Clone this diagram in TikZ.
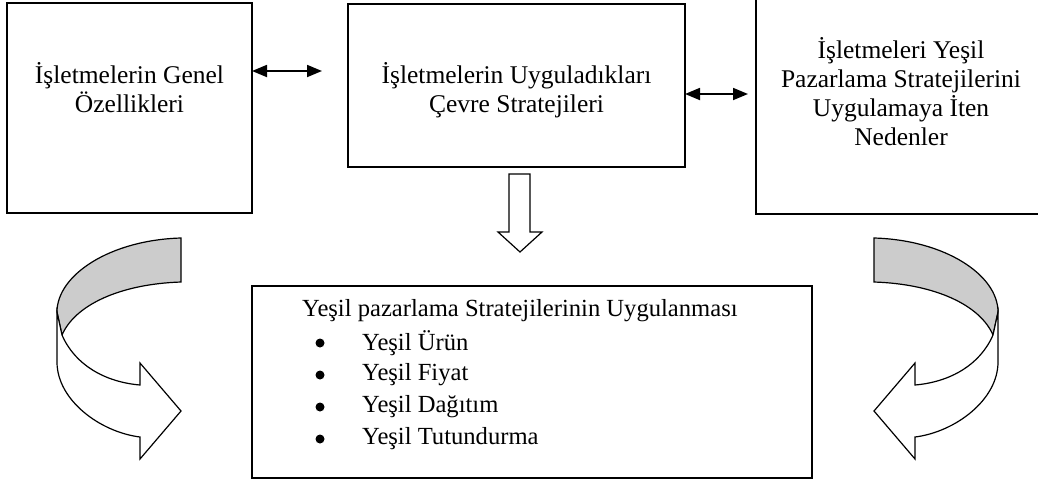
\documentclass[tikz,border=0pt]{standalone}
\usepackage{fontspec}
\setmainfont{Liberation Serif}
\usetikzlibrary{arrows.meta,calc}

\begin{document}
\begin{tikzpicture}[x=1pt,y=-1pt,
  box/.style={draw, line width=1.6pt, inner sep=0pt, outer sep=0pt},
  txt/.style={align=center, font=\fontsize{25.5}{29}\selectfont, inner sep=0pt},
  itemtxt/.style={anchor=west, font=\fontsize{24.6}{32}\selectfont, inner sep=0pt},
  dot/.style={circle, fill=black, inner sep=0pt, minimum size=9pt},
  link/.style={line width=1.8pt, {Triangle[length=15pt,width=12pt]}-{Triangle[length=15pt,width=12pt]}},
  ribbon/.style={line width=1.2pt, line join=miter},
  backside/.style={ribbon, fill=gray!40},
  frontside/.style={ribbon, fill=white},
]
\clip (0,0) rectangle (1038,483);

% three top boxes
\node[box, minimum width=245pt, minimum height=210pt] (gen) at (129.5,108) {};
\node[txt] (gent) at (129.5,88) {İşletmelerin Genel\\Özellikleri};

\node[box, minimum width=337pt, minimum height=163pt] (mid) at (516.5,85.5) {};
\node[txt] (midt) at (516.5,90) {İşletmelerin Uyguladıkları\\Çevre Stratejileri};

\node[box, minimum width=290pt, minimum height=244pt] (neden) at (901,92) {};
\node[txt] (nedent) at (901,92) {İşletmeleri Yeşil\\Pazarlama Stratejilerini\\Uygulamaya İten\\Nedenler};

% bottom box with the list
\node[box, minimum width=560pt, minimum height=192pt] (app) at (532,382) {};
\node[itemtxt] (head) at (302,311) {Yeşil pazarlama Stratejilerinin Uygulanması};
\foreach \y/\t [count=\i] in {343/Yeşil Ürün, 375/Yeşil Fiyat, 407/Yeşil Dağıtım, 439/Yeşil Tutundurma}{
  \node[dot] (b\i) at (320,\y) {};
  \node[itemtxt] (it\i) at (362,\y) {\t};
}

% two-way links between the top boxes
\coordinate (la) at (322,71);
\draw[link] (gen.east |- la) -- (la);
\coordinate (ra) at (748,94);
\draw[link] (mid.east |- ra) -- (ra);

% hollow block arrow down to the bottom box
\draw[ribbon, fill=white] (509,174) -- (530,174) -- (530,232) -- (542,232)
  -- (520,252) -- (498,232) -- (509,232) -- cycle;

% curved ribbon arrows on both sides
\newcommand{\bentribbon}{%
  \filldraw[backside] (181,238) .. controls (110,240) and (57,275) .. (57,312)
    -- (62,335) .. controls (75,305) and (120,284) .. (181,282) -- cycle;
  \filldraw[frontside] (57,312) -- (57,362) .. controls (57,400) and (100,432) .. (140,437)
    -- (140,459) -- (181,411) -- (140,363) -- (140,385)
    .. controls (105,382) and (75,365) .. (62,335) -- cycle;
}
\begin{scope}
  \bentribbon
\end{scope}
\begin{scope}[xshift=1055pt, xscale=-1]
  \bentribbon
\end{scope}
\end{tikzpicture}
\end{document}
